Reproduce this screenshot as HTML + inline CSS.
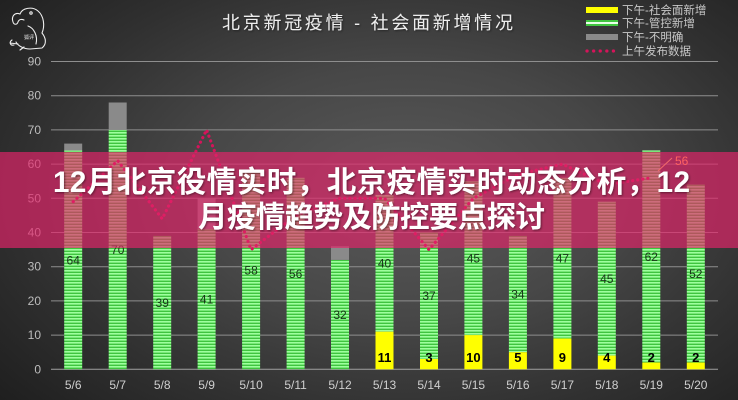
<!DOCTYPE html>
<html>
<head>
<meta charset="utf-8">
<style>
html,body{margin:0;padding:0;}
body{width:738px;height:400px;overflow:hidden;position:relative;
background:radial-gradient(ellipse 72% 80% at 55% 48%, #5a5a5a 0%, #474747 40%, #303030 72%, #1f1f1f 100%);
font-family:"Liberation Sans","Noto Sans CJK SC",sans-serif;}
svg{position:absolute;left:0;top:0;}
</style>
</head>
<body>
<svg width="738" height="400" viewBox="0 0 738 400" xmlns="http://www.w3.org/2000/svg">
<defs>
<pattern id="gs" patternUnits="userSpaceOnUse" width="6" height="3">
<rect width="6" height="3" fill="#3fc43f"/>
<rect width="6" height="1.6" fill="#9dff9d"/>
</pattern>
<pattern id="gl" patternUnits="userSpaceOnUse" width="6" height="6" y="20">
<rect width="6" height="6" fill="#3fc43f"/>
<rect y="2" width="6" height="2" fill="#e8ffe8"/>
</pattern>
<filter id="sh" x="-5%" y="-20%" width="110%" height="140%">
<feDropShadow dx="1" dy="1" stdDeviation="1" flood-color="#000" flood-opacity="0.45"/>
</filter>
</defs>

<!-- logo -->
<g stroke="#eeeeee" stroke-width="1.1" fill="none" stroke-linecap="round">
<path d="M20 14 C22 8 32 6 38 11 C44 16 45 26 42 33 C46 38 47 44 42 48 L30 49 C24 49 18 46 16 42"/>
<path d="M20 14 C15 12 11 16 13 22 C14 25 17 25 18 22 C19 19 22 19 24 20"/>
<circle cx="31" cy="13" r="1.2"/>
<path d="M28 26 C34 28 38 36 36 44"/>
<path d="M12 40 C9 42 10 46 14 45 M10 43 L18 44 M24 47 L20 50"/>
</g>
<text x="29" y="39" font-size="5" fill="#eee" text-anchor="middle" font-family="Noto Sans CJK SC, sans-serif">狐评</text>

<!-- title -->
<text x="222" y="29" textLength="291" lengthAdjust="spacing" font-size="18" fill="#eeeeee" font-family="Liberation Sans, Noto Sans CJK SC, sans-serif" filter="url(#sh)">北京新冠疫情 - 社会面新增情况</text>

<!-- legend -->
<rect x="586" y="7" width="32" height="6" fill="#ffff00"/>
<rect x="586" y="20" width="32" height="6" fill="url(#gl)"/>
<rect x="586" y="34" width="32" height="6" fill="#8a8a8a"/>
<line x1="587" y1="51" x2="617" y2="51" stroke="#d4145a" stroke-width="3.2" stroke-linecap="round" stroke-dasharray="0.1 6.5"/>
<g font-size="11.5" fill="#c8c8c8" font-family="Liberation Sans, Noto Sans CJK SC, sans-serif">
<text x="622" y="14">下午-社会面新增</text>
<text x="622" y="27">下午-管控新增</text>
<text x="622" y="41">下午-不明确</text>
<text x="622" y="55">上午发布数据</text>
</g>

<!-- gridlines -->
<g stroke="#8e8e8e" stroke-width="1">
<line x1="51" y1="61.5" x2="718" y2="61.5"/>
<line x1="51" y1="95.7" x2="718" y2="95.7"/>
<line x1="51" y1="129.9" x2="718" y2="129.9"/>
<line x1="51" y1="164.1" x2="718" y2="164.1"/>
<line x1="51" y1="198.3" x2="718" y2="198.3"/>
<line x1="51" y1="232.5" x2="718" y2="232.5"/>
<line x1="51" y1="266.7" x2="718" y2="266.7"/>
<line x1="51" y1="300.9" x2="718" y2="300.9"/>
<line x1="51" y1="335.1" x2="718" y2="335.1"/>
<line x1="51" y1="369.3" x2="718" y2="369.3" stroke="#a0a0a0"/>
</g>
<!-- y labels -->
<g font-size="12" fill="#bdbdbd" text-anchor="end">
<text x="41" y="65.5">90</text>
<text x="41" y="99.7">80</text>
<text x="41" y="133.9">70</text>
<text x="41" y="168.1">60</text>
<text x="41" y="202.3">50</text>
<text x="41" y="236.5">40</text>
<text x="41" y="270.7">30</text>
<text x="41" y="304.9">20</text>
<text x="41" y="339.1">10</text>
<text x="41" y="373.3">0</text>
</g>

<!-- bars -->
<g>
<rect x="64.2" y="150.4" width="18" height="218.9" fill="url(#gs)"/>
<rect x="108.7" y="129.9" width="18" height="239.4" fill="url(#gs)"/>
<rect x="153.2" y="235.9" width="18" height="133.4" fill="url(#gs)"/>
<rect x="197.6" y="229.1" width="18" height="140.2" fill="url(#gs)"/>
<rect x="242.1" y="170.9" width="18" height="198.4" fill="url(#gs)"/>
<rect x="286.6" y="177.8" width="18" height="191.5" fill="url(#gs)"/>
<rect x="331.0" y="259.9" width="18" height="109.4" fill="url(#gs)"/>
<rect x="375.5" y="194.9" width="18" height="136.8" fill="url(#gs)"/>
<rect x="420.0" y="232.5" width="18" height="126.5" fill="url(#gs)"/>
<rect x="464.4" y="181.2" width="18" height="153.9" fill="url(#gs)"/>
<rect x="508.9" y="235.9" width="18" height="116.3" fill="url(#gs)"/>
<rect x="553.4" y="177.8" width="18" height="160.7" fill="url(#gs)"/>
<rect x="597.8" y="201.7" width="18" height="153.9" fill="url(#gs)"/>
<rect x="642.3" y="150.4" width="18" height="212.0" fill="url(#gs)"/>
<rect x="686.8" y="184.6" width="18" height="177.8" fill="url(#gs)"/>
<rect x="64.2" y="143.6" width="18" height="6.8" fill="#8a8a8a"/>
<rect x="108.7" y="102.5" width="18" height="27.4" fill="#8a8a8a"/>
<rect x="197.6" y="198.3" width="18" height="30.8" fill="#8a8a8a"/>
<rect x="331.0" y="246.2" width="18" height="13.7" fill="#8a8a8a"/>
<rect x="375.5" y="331.7" width="18" height="37.6" fill="#ffff00"/>
<rect x="420.0" y="359.0" width="18" height="10.3" fill="#ffff00"/>
<rect x="464.4" y="335.1" width="18" height="34.2" fill="#ffff00"/>
<rect x="508.9" y="352.2" width="18" height="17.1" fill="#ffff00"/>
<rect x="553.4" y="338.5" width="18" height="30.8" fill="#ffff00"/>
<rect x="597.8" y="355.6" width="18" height="13.7" fill="#ffff00"/>
<rect x="642.3" y="362.5" width="18" height="6.8" fill="#ffff00"/>
<rect x="686.8" y="362.5" width="18" height="6.8" fill="#ffff00"/>
</g>

<!-- green labels -->
<g font-size="12" fill="#183418" text-anchor="middle">
<text x="73.2" y="264.3">64</text>
<text x="117.7" y="254">70</text>
<text x="162.2" y="307">39</text>
<text x="206.6" y="303.6">41</text>
<text x="251.1" y="274.5">58</text>
<text x="295.6" y="277.9">56</text>
<text x="340.0" y="319">32</text>
<text x="384.5" y="267.7">40</text>
<text x="429.0" y="300.2">37</text>
<text x="473.4" y="262.6">45</text>
<text x="517.9" y="298.5">34</text>
<text x="562.4" y="262.6">47</text>
<text x="606.8" y="283.1">45</text>
<text x="651.3" y="260.8">62</text>
<text x="695.8" y="277.9">52</text>
</g>
<!-- yellow labels -->
<g font-size="13" font-weight="bold" fill="#000" text-anchor="middle">
<text x="384.5" y="362">11</text>
<text x="429.0" y="362">3</text>
<text x="473.4" y="362">10</text>
<text x="517.9" y="362">5</text>
<text x="562.4" y="362">9</text>
<text x="606.8" y="362">4</text>
<text x="651.3" y="362">2</text>
<text x="695.8" y="362">2</text>
</g>

<!-- x labels -->
<g font-size="12" fill="#cfcfcf" text-anchor="middle">
<text x="73.2" y="389">5/6</text>
<text x="117.7" y="389">5/7</text>
<text x="162.2" y="389">5/8</text>
<text x="206.6" y="389">5/9</text>
<text x="251.1" y="389">5/10</text>
<text x="295.6" y="389">5/11</text>
<text x="340.0" y="389">5/12</text>
<text x="384.5" y="389">5/13</text>
<text x="429.0" y="389">5/14</text>
<text x="473.4" y="389">5/15</text>
<text x="517.9" y="389">5/16</text>
<text x="562.4" y="389">5/17</text>
<text x="606.8" y="389">5/18</text>
<text x="651.3" y="389">5/19</text>
<text x="695.8" y="389">5/20</text>
</g>

<!-- dotted line -->
<polyline fill="none" stroke="#d4145a" stroke-width="3.2" stroke-linecap="round" stroke-dasharray="0.1 5"
points="73.2,201.7 117.7,160.7 162.2,218.8 206.6,129.9 251.1,249.6 295.6,215.4 340.0,198.3 384.5,198.3 429.0,249.6 473.4,198.3 517.9,174.4 562.4,164.1 606.8,184.6 651.3,177.8"/>

<!-- banner -->
<rect x="0" y="152" width="738" height="96" fill="rgb(228,36,106)" fill-opacity="0.67"/>

<!-- 56 label -->
<line x1="658" y1="171" x2="672" y2="158" stroke="#f06a6a" stroke-width="1"/>
<text x="675" y="165" font-size="12" fill="#ff6262">56</text>

<!-- banner text -->
<g font-size="29.5" font-weight="bold" fill="#ffffff" font-family="Liberation Sans, Noto Sans CJK SC, sans-serif" filter="url(#sh)">
<text x="53" y="192" textLength="637" lengthAdjust="spacing">12月北京役情实时，北京疫情实时动态分析，12</text>
<text x="198" y="227" textLength="347" lengthAdjust="spacing">月疫情趋势及防控要点探讨</text>
</g>
</svg>
</body>
</html>
